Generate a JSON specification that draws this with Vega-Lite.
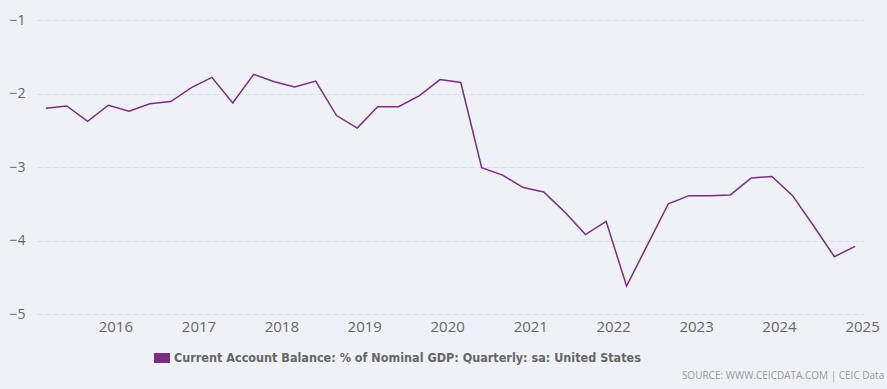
{
  "$schema": "https://vega.github.io/schema/vega-lite/v6.json",
  "width": 826,
  "height": 294,
  "autosize": "none",
  "padding": {"left": 37, "top": 20, "right": 24, "bottom": 75},
  "background": "#eef2f7",
  "config": {
    "view": {"stroke": null},
    "font": "Open Sans"
  },
  "title": {
    "text": "SOURCE: WWW.CEICDATA.COM | CEIC Data",
    "orient": "bottom",
    "anchor": "end",
    "fontSize": 10,
    "fontWeight": "normal",
    "color": "#999999",
    "font": "Open Sans",
    "offset": 6,
    "dx": 5
  },
  "data": {
    "values": [
      {"date": "2015-03-01", "value": -2.20},
      {"date": "2015-06-01", "value": -2.17},
      {"date": "2015-09-01", "value": -2.38},
      {"date": "2015-12-01", "value": -2.16},
      {"date": "2016-03-01", "value": -2.24},
      {"date": "2016-06-01", "value": -2.14},
      {"date": "2016-09-01", "value": -2.11},
      {"date": "2016-12-01", "value": -1.92},
      {"date": "2017-03-01", "value": -1.78},
      {"date": "2017-06-01", "value": -2.13},
      {"date": "2017-09-01", "value": -1.74},
      {"date": "2017-12-01", "value": -1.84},
      {"date": "2018-03-01", "value": -1.91},
      {"date": "2018-06-01", "value": -1.83},
      {"date": "2018-09-01", "value": -2.30},
      {"date": "2018-12-01", "value": -2.47},
      {"date": "2019-03-01", "value": -2.18},
      {"date": "2019-06-01", "value": -2.18},
      {"date": "2019-09-01", "value": -2.03},
      {"date": "2019-12-01", "value": -1.81},
      {"date": "2020-03-01", "value": -1.85},
      {"date": "2020-06-01", "value": -3.01},
      {"date": "2020-09-01", "value": -3.11},
      {"date": "2020-12-01", "value": -3.28},
      {"date": "2021-03-01", "value": -3.34},
      {"date": "2021-06-01", "value": -3.61},
      {"date": "2021-09-01", "value": -3.92},
      {"date": "2021-12-01", "value": -3.74},
      {"date": "2022-03-01", "value": -4.62},
      {"date": "2022-06-01", "value": -4.06},
      {"date": "2022-09-01", "value": -3.50},
      {"date": "2022-12-01", "value": -3.39},
      {"date": "2023-03-01", "value": -3.39},
      {"date": "2023-06-01", "value": -3.38},
      {"date": "2023-09-01", "value": -3.15},
      {"date": "2023-12-01", "value": -3.13},
      {"date": "2024-03-01", "value": -3.39},
      {"date": "2024-06-01", "value": -3.80},
      {"date": "2024-09-01", "value": -4.22},
      {"date": "2024-12-01", "value": -4.08}
    ]
  },
  "transform": [
    {"calculate": "'Current Account Balance: % of Nominal GDP: Quarterly: sa: United States'", "as": "series"}
  ],
  "mark": {"type": "line", "strokeWidth": 1.5, "interpolate": "linear"},
  "encoding": {
    "x": {
      "field": "date",
      "type": "temporal",
      "scale": {"type": "utc", "domain": ["2015-01-21", "2025-01-05"]},
      "axis": {
        "title": null,
        "format": "%Y",
        "tickCount": {"interval": "year", "step": 1},
        "grid": false,
        "domain": false,
        "ticks": false,
        "labelFontSize": 15,
        "labelColor": "#666666",
        "labelPadding": 5,
        "labelFlush": false,
        "labelOverlap": false
      }
    },
    "y": {
      "field": "value",
      "type": "quantitative",
      "scale": {"domain": [-5, -1], "nice": false, "zero": false},
      "axis": {
        "title": null,
        "values": [-5, -4, -3, -2, -1],
        "domain": false,
        "ticks": false,
        "labelFontSize": 14,
        "labelColor": "#666666",
        "labelPadding": 12,
        "grid": true,
        "gridColor": "#d9dfe6",
        "gridDash": [5, 3],
        "gridWidth": 1
      }
    },
    "color": {
      "field": "series",
      "type": "nominal",
      "scale": {"range": ["#7b2c85"]},
      "legend": {
        "title": null,
        "orient": "none",
        "legendX": 117,
        "legendY": 330,
        "padding": 0,
        "symbolType": "M-1,-0.625H1V0.625H-1Z",
        "symbolSize": 256,
        "symbolFillColor": "#7b2c85",
        "symbolStrokeWidth": 0,
        "labelFont": "DejaVu Sans Condensed",
        "labelFontSize": 12.5,
        "labelFontWeight": "bold",
        "labelColor": "#666666",
        "labelLimit": 0,
        "labelOffset": 4,
        "encode": {"symbols": {"update": {"fill": {"value": "#7b2c85"}, "stroke": {"value": "transparent"}, "strokeWidth": {"value": 0}}}}
      }
    }
  }
}
